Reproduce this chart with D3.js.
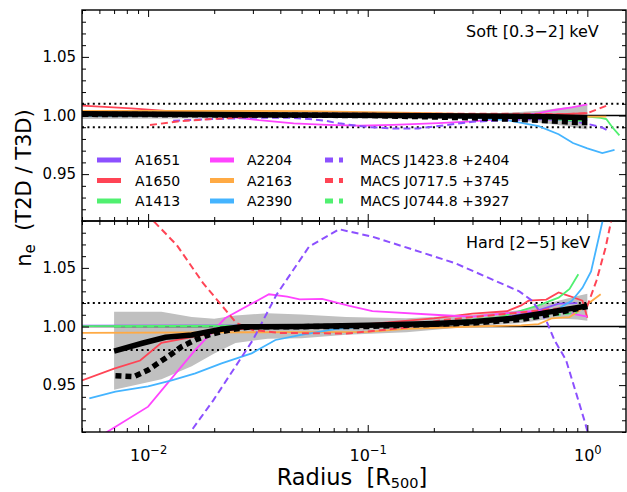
<!DOCTYPE html>
<html><head><meta charset="utf-8">
<script src="https://cdn.jsdelivr.net/npm/d3@7"></script>
<style>body{margin:0;background:#fff}svg{display:block}</style>
</head><body>
<script>
// ---------------- DATA ----------------
const seriesNames = ["A1651","A1650","A1413","A2204","A2163","A2390","MACS J1423.8 +2404","MACS J0717.5 +3745","MACS J0744.8 +3927"];
const seriesColors = ["#8c50ff","#ff4455","#50f070","#ff44ff","#ffaa44","#44b4ff","#8c50ff","#ff4455","#50f070"];
const seriesDashed = [false,false,false,false,false,false,true,true,true];
const xTicks = [0.01, 0.1, 1];
const xTickLabels = ["10|−2","10|−1","10|0"];
const yTicks = [0.95, 1.00, 1.05];
const panelLabels = ["Soft [0.3−2] keV","Hard [2−5] keV"];
const refLines = [[0.99,1.01],[0.98,1.02]];

// Soft band [r, value]
const softA1651 = [[0.005,1.000],[0.05,1.000],[0.3,1.000],[0.6,0.999],[1.0,0.997]];
const softA1650 = [[0.005,1.0085],[0.0084,1.006],[0.012,1.004],[0.02,1.002],[0.05,1.001],[0.3,1.001],[0.7,1.001],[1.0,1.002]];
const softA1413 = [[0.005,1.000],[0.5,1.000],[1.0,0.999],[1.15,0.998],[1.22,0.997],[1.3,0.990],[1.4,0.983]];
const softA2204 = [[0.005,1.002],[0.01,1.001],[0.021,1.000],[0.032,0.996],[0.046,0.9933],[0.065,0.992],[0.092,0.9913],[0.13,0.992],[0.21,0.9935],[0.3,0.995],[0.43,0.9976],[0.6,1.002],[0.71,1.0047],[0.85,1.007],[1.0,1.0095]];
const softA2163 = [[0.005,1.004],[0.05,1.0038],[0.2,1.002],[0.5,1.000],[1.0,0.999],[1.22,0.999]];
const softA2390 = [[0.005,1.000],[0.1,1.000],[0.2,0.999],[0.3,0.998],[0.43,0.996],[0.6,0.991],[0.74,0.984],[0.86,0.9765],[1.0,0.972],[1.17,0.968],[1.33,0.9706]];
const softJ1423 = [[0.013,0.9955],[0.02,0.997],[0.03,0.998],[0.045,0.998],[0.054,0.997],[0.065,0.9953],[0.074,0.9933],[0.089,0.9913],[0.102,0.990],[0.13,0.989],[0.17,0.989],[0.21,0.991],[0.3,0.9947],[0.43,0.996],[0.6,0.997],[0.8,0.996],[0.98,0.9933],[1.16,0.990],[1.27,0.986]];
const softJ0717 = [[0.0102,0.9919],[0.0124,0.9939],[0.0142,0.9953],[0.0169,0.9962],[0.0195,0.997],[0.0224,0.9976],[0.03,0.999],[0.05,1.0015],[0.2,1.0015],[0.5,1.0015],[0.8,1.001],[1.0,1.002],[1.1,1.005],[1.25,1.009]];
const softJ0744 = [[0.01,1.000],[0.3,0.999],[0.6,0.998],[0.8,0.996],[1.0,0.9955]];
const softMean = [[0.005,1.0015],[0.05,1.0005],[0.3,0.9995],[0.7,0.999],[1.0,0.998]];
const softMedian = [[0.005,1.001],[0.1,1.000],[0.3,0.998],[0.6,0.996],[0.9,0.994],[1.0,0.994]];
const softBand = [[0.005,0.997,1.004],[0.05,0.998,1.002],[0.2,0.998,1.001],[0.4,0.997,1.002],[0.6,0.994,1.004],[0.8,0.991,1.007],[1.0,0.988,1.009]];

// Hard band
const hardA1651 = [[0.005,1.0007],[0.1,1.001],[0.2,1.003],[0.4,1.007],[0.58,1.013],[0.74,1.0195],[0.9,1.02]];
const hardA1650 = [[0.005,0.954],[0.007,0.964],[0.0092,0.971],[0.0115,0.986],[0.0158,0.991],[0.022,0.996],[0.03,0.999],[0.05,1.000],[0.1,1.002],[0.2,1.007],[0.3,1.011],[0.43,1.013],[0.5,1.018],[0.54,1.022],[0.65,1.023],[0.74,1.029],[0.83,1.026],[0.95,1.022],[1.0,1.0075]];
const hardA1413 = [[0.005,1.0003],[0.1,1.001],[0.2,1.003],[0.4,1.008],[0.6,1.018],[0.74,1.0246],[0.83,1.032],[0.91,1.0445]];
const hardA2204 = [[0.006,0.906],[0.01,0.9316],[0.0164,0.980],[0.0224,1.007],[0.0355,1.0275],[0.043,1.0254],[0.049,1.0232],[0.062,1.0235],[0.0825,1.0175],[0.105,1.0132],[0.21,1.0098],[0.3,1.0085],[0.5,1.0125],[0.69,1.014],[0.85,1.011],[1.0,1.0085]];
const hardA2163 = [[0.005,0.9945],[0.1,0.9955],[0.15,0.998],[0.3,1.000],[0.5,1.001],[0.6,1.002],[0.69,1.007],[0.83,1.008],[0.91,1.013],[1.0,1.019],[1.15,1.0275]];
const hardA2390 = [[0.0054,0.9387],[0.0071,0.9444],[0.01,0.949],[0.0128,0.954],[0.0164,0.960],[0.0216,0.9686],[0.0296,0.9771],[0.038,0.9885],[0.049,0.9927],[0.072,0.998],[0.1,1.000],[0.2,1.003],[0.4,1.006],[0.6,1.010],[0.75,1.016],[0.85,1.022],[0.95,1.033],[1.04,1.047],[1.1,1.067],[1.18,1.092]];
const hardJ1423 = [[0.013,0.89],[0.016,0.913],[0.0198,0.937],[0.03,0.9885],[0.0384,1.027],[0.054,1.068],[0.074,1.083],[0.105,1.0766],[0.154,1.0667],[0.25,1.054],[0.37,1.040],[0.49,1.030],[0.56,1.022],[0.65,1.005],[0.71,0.988],[0.8,0.9714],[0.91,0.937],[0.98,0.917],[1.02,0.905]];
const hardJ0717 = [[0.0098,1.096],[0.0107,1.089],[0.0135,1.0695],[0.0178,1.037],[0.0212,1.020],[0.0252,1.003],[0.03,0.997],[0.04,0.9945],[0.08,0.994],[0.15,0.999],[0.21,1.005],[0.3,1.008],[0.5,1.012],[0.7,1.015],[1.0,1.0175],[1.1,1.039],[1.21,1.067],[1.3,1.095]];
const hardJ0744 = [[0.007,1.000],[0.1,1.0005],[0.3,1.003],[0.6,1.008],[0.9,1.012]];
const hardMean = [[0.007,0.979],[0.0094,0.9857],[0.012,0.9908],[0.0158,0.9927],[0.0216,0.9976],[0.0267,0.9998],[0.05,1.000],[0.1,1.001],[0.2,1.0025],[0.3,1.004],[0.455,1.007],[0.69,1.0127],[1.0,1.0175]];
const hardMedian = [[0.0071,0.958],[0.0086,0.9572],[0.01,0.9629],[0.0124,0.9748],[0.0142,0.9828],[0.0164,0.9885],[0.0188,0.9927],[0.0216,0.9955],[0.0249,0.9978],[0.0296,0.9998],[0.1,1.000],[0.3,1.003],[0.5,1.006],[0.7,1.011],[1.0,1.017]];
const hardBand = [[0.007,0.946,1.0126],[0.0115,0.955,1.0126],[0.0158,0.966,1.008],[0.02,0.977,1.0066],[0.025,0.986,1.0094],[0.035,0.9895,1.0114],[0.05,0.990,1.0103],[0.08,0.993,1.008],[0.15,0.995,1.007],[0.3,1.000,1.0098],[0.5,1.003,1.014],[0.7,1.007,1.021],[0.9,1.006,1.026],[1.0,1.005,1.028]];

const softSeries = [softA1651,softA1650,softA1413,softA2204,softA2163,softA2390,softJ1423,softJ0717,softJ0744];
const hardSeries = [hardA1651,hardA1650,hardA1413,hardA2204,hardA2163,hardA2390,hardJ1423,hardJ0717,hardJ0744];

// ---------------- DRAW ----------------
const W = 627, H = 492;
const FONT = "'DejaVu Sans', Verdana, sans-serif";
const L = 82, R = 626;
const panels = [
  {top:10, bottom:221, series:softSeries, mean:softMean, median:softMedian, band:softBand, label:panelLabels[0], ref:refLines[0], labelY:37},
  {top:221, bottom:432, series:hardSeries, mean:hardMean, median:hardMedian, band:hardBand, label:panelLabels[1], ref:refLines[1], labelY:248}
];
const svg = d3.select("body").append("svg").attr("width",W).attr("height",H).style("font-family",FONT);
const x = d3.scaleLog().domain([0.005,1.5]).range([L,R]);
const minorX = [];
[0.001,0.01,0.1,1].forEach(d=>{for(let k=2;k<=9;k++){const v=d*k; if(v>=0.005&&v<=1.5) minorX.push(v);}});
const minorY = d3.range(91,110).map(v=>v/100).filter(v=>Math.abs(v*100%5)>0.01 && Math.abs(v*100%5-5)>0.01);

panels.forEach((p,i)=>{
  const y = d3.scaleLinear().domain([0.91,1.09]).range([p.bottom,p.top]);
  const cid = "clip"+i;
  svg.append("clipPath").attr("id",cid).append("rect").attr("x",L).attr("y",p.top).attr("width",R-L).attr("height",p.bottom-p.top);
  const g = svg.append("g").attr("clip-path",`url(#${cid})`);
  g.append("path").datum(p.band).attr("fill","#c0c0c0").attr("stroke","none")
    .attr("d",d3.area().x(d=>x(d[0])).y0(d=>y(d[1])).y1(d=>y(d[2])));
  g.append("line").attr("x1",L).attr("x2",R).attr("y1",y(1)).attr("y2",y(1)).attr("stroke","#000").attr("stroke-width",1.6);
  p.ref.forEach(v=>g.append("line").attr("x1",L).attr("x2",R).attr("y1",y(v)).attr("y2",y(v))
    .attr("stroke","#000").attr("stroke-width",2).attr("stroke-dasharray","2,3.4"));
  const line = d3.line().x(d=>x(d[0])).y(d=>y(d[1]));
  p.series.forEach((s,j)=>{
    g.append("path").datum(s).attr("fill","none").attr("stroke",seriesColors[j])
      .attr("stroke-width",seriesDashed[j]?2:1.8).attr("stroke-dasharray",seriesDashed[j]?"7,4":null).attr("d",line);
  });
  g.append("path").datum(p.mean).attr("fill","none").attr("stroke","#000").attr("stroke-width",5.5).attr("d",line);
  g.append("path").datum(p.median).attr("fill","none").attr("stroke","#000").attr("stroke-width",5.5).attr("stroke-dasharray","6,4").attr("d",line);

  const ax = svg.append("g");
  const mk = (axis, tx, ty) => { const a = ax.append("g").attr("transform",`translate(${tx},${ty})`).call(axis); a.select(".domain").remove(); return a; };
  const yl = mk(d3.axisLeft(y).tickValues(yTicks).tickSizeInner(-7).tickSizeOuter(0).tickPadding(6).tickFormat(d3.format(".2f")), L, 0);
  yl.selectAll("text").attr("font-size",15).attr("font-family",FONT).attr("fill","#000");
  mk(d3.axisLeft(y).tickValues(minorY).tickSizeInner(-4).tickSizeOuter(0).tickFormat(""), L, 0);
  mk(d3.axisRight(y).tickValues(yTicks).tickSizeInner(-7).tickSizeOuter(0).tickFormat(""), R, 0);
  mk(d3.axisRight(y).tickValues(minorY).tickSizeInner(-4).tickSizeOuter(0).tickFormat(""), R, 0);
  mk(d3.axisTop(x).tickValues(xTicks).tickSizeInner(-7).tickSizeOuter(0).tickFormat(""), 0, p.top);
  mk(d3.axisTop(x).tickValues(minorX).tickSizeInner(-4).tickSizeOuter(0).tickFormat(""), 0, p.top);
  const xb = mk(d3.axisBottom(x).tickValues(xTicks).tickSizeInner(-7).tickSizeOuter(0).tickFormat(""), 0, p.bottom);
  mk(d3.axisBottom(x).tickValues(minorX).tickSizeInner(-4).tickSizeOuter(0).tickFormat(""), 0, p.bottom);
  ax.selectAll("line").attr("stroke","#000").attr("stroke-width",1);
  if(i===1){
    xb.selectAll(".tick").each(function(d,k){
      const parts = xTickLabels[k].split("|");
      const t = d3.select(this).append("text").attr("y",29).attr("text-anchor","middle").attr("fill","#000").attr("font-size",16).attr("font-family",FONT);
      t.append("tspan").text(parts[0]);
      t.append("tspan").attr("dy",-7).attr("font-size",11.5).text(parts[1]);
    });
  }
  svg.append("rect").attr("x",L).attr("y",p.top).attr("width",R-L).attr("height",p.bottom-p.top)
    .attr("fill","none").attr("stroke","#000").attr("stroke-width",1.4);
  svg.append("text").attr("x",466).attr("y",p.labelY).attr("font-size",16).attr("fill","#000").text(p.label);
});

// legend
const legRows = [160,180.5,201];
const legCols = [{x:97,len:24,tx:135},{x:210,len:24,tx:247},{x:325,len:18,tx:360}];
seriesNames.forEach((n,j)=>{
  const c = legCols[Math.floor(j/3)], ry = legRows[j%3];
  svg.append("line").attr("x1",c.x).attr("x2",c.x+c.len).attr("y1",ry).attr("y2",ry)
    .attr("stroke",seriesColors[j]).attr("stroke-width",5).attr("stroke-dasharray",seriesDashed[j]?"8,6":null);
  svg.append("text").attr("x",c.tx).attr("y",ry+5).attr("font-size",14).attr("fill","#000").text(n);
});

// axis titles
const xt = svg.append("text").attr("x",352).attr("y",485).attr("text-anchor","middle").attr("font-size",22.5).attr("fill","#000");
xt.append("tspan").text("Radius\u00a0\u00a0[R");
xt.append("tspan").attr("font-size",14.5).attr("dy",3).text("500");
xt.append("tspan").attr("dy",-3).text("]");
const yt = svg.append("text").attr("transform","translate(31,188) rotate(-90)").attr("text-anchor","middle").attr("font-size",21).attr("fill","#000");
yt.append("tspan").text("n");
yt.append("tspan").attr("font-size",15).attr("dy",4).text("e");
yt.append("tspan").attr("dy",-4).text("\u00a0\u00a0(T2D / T3D)");
</script>
</body></html>
